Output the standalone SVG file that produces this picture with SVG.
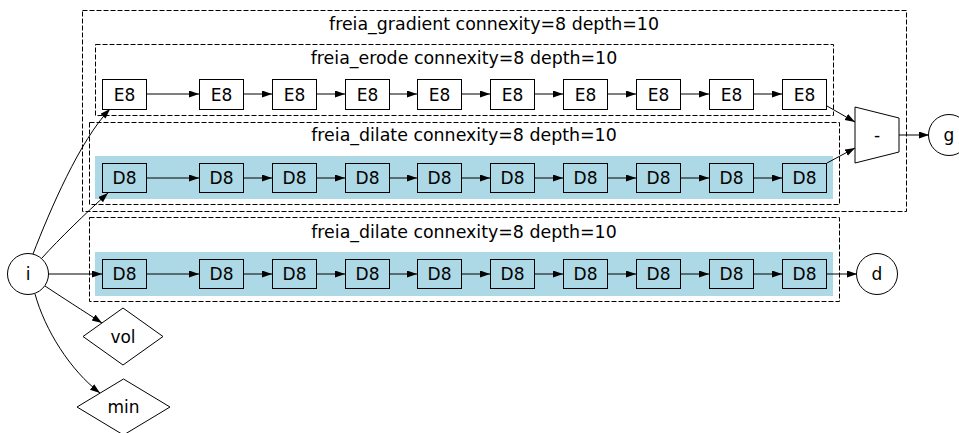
<svg xmlns="http://www.w3.org/2000/svg" width="959" height="433" viewBox="0 0 959 433">
<style>
text{font-family:"DejaVu Sans",sans-serif;font-size:17px;fill:#000;text-anchor:middle}
text.t{font-size:17.4px}
.cl{fill:none;stroke:#000;stroke-width:1;stroke-dasharray:5,2}
.bg{fill:#add8e6;stroke:none}
.n{stroke:#000;stroke-width:1}
.w{fill:#fff}
.b{fill:#add8e6}
.e{fill:none;stroke:#000;stroke-width:1;marker-end:url(#ah)}
</style>
<defs>
<marker id="ah" markerUnits="userSpaceOnUse" markerWidth="10" markerHeight="8" refX="10" refY="3.5" orient="auto">
<path d="M0,0 L10,3.5 L0,7 z" fill="#000"/>
</marker>
</defs>
<rect width="959" height="433" fill="#fff"/>
<g id="cluster_gradient">
<rect class="cl" x="82.5" y="10.5" width="824" height="201"/>
<text class="t" x="494" y="30">freia_gradient connexity=8 depth=10</text>
</g>
<g id="cluster_erode">
<rect class="cl" x="95.5" y="44.5" width="738" height="71"/>
<text class="t" x="464" y="64">freia_erode connexity=8 depth=10</text>
</g>
<g id="cluster_dilate1">
<rect class="cl" x="89.5" y="122.5" width="750" height="82"/>
<text class="t" x="464" y="141">freia_dilate connexity=8 depth=10</text>
<rect class="bg" x="95" y="156" width="738" height="43"/>
</g>
<g id="cluster_dilate2">
<rect class="cl" x="89.5" y="217.5" width="750" height="84"/>
<text class="t" x="464" y="238">freia_dilate connexity=8 depth=10</text>
<rect class="bg" x="95" y="252" width="738" height="44"/>
</g>
<g id="edges">
<path class="e" d="M146,94 L199,94"/>
<path class="e" d="M243,94 L272,94"/>
<path class="e" d="M316,94 L345,94"/>
<path class="e" d="M389,94 L417,94"/>
<path class="e" d="M461,94 L490,94"/>
<path class="e" d="M534,94 L563,94"/>
<path class="e" d="M607,94 L636,94"/>
<path class="e" d="M680,94 L709,94"/>
<path class="e" d="M753,94 L782,94"/>
<path class="e" d="M146,178 L199,178"/>
<path class="e" d="M243,178 L272,178"/>
<path class="e" d="M316,178 L345,178"/>
<path class="e" d="M389,178 L417,178"/>
<path class="e" d="M461,178 L490,178"/>
<path class="e" d="M534,178 L563,178"/>
<path class="e" d="M607,178 L636,178"/>
<path class="e" d="M680,178 L709,178"/>
<path class="e" d="M753,178 L782,178"/>
<path class="e" d="M146,274 L199,274"/>
<path class="e" d="M243,274 L272,274"/>
<path class="e" d="M316,274 L345,274"/>
<path class="e" d="M389,274 L417,274"/>
<path class="e" d="M461,274 L490,274"/>
<path class="e" d="M534,274 L563,274"/>
<path class="e" d="M607,274 L636,274"/>
<path class="e" d="M680,274 L709,274"/>
<path class="e" d="M753,274 L782,274"/>
<path class="e" d="M33,254 C50,210 80,140 110,109"/>
<path class="e" d="M42,258 C60,238 85,214 108,193"/>
<path class="e" d="M48,274 L102,274"/>
<path class="e" d="M45,286 C60,296 85,312 102,323"/>
<path class="e" d="M35,294 C45,330 70,370 100,393"/>
<path class="e" d="M827,106 L855,122"/>
<path class="e" d="M827,163 L855,148"/>
<path class="e" d="M899,135 L929,135"/>
<path class="e" d="M826,274 L857,274"/>
</g>
<g id="E8_1"><rect class="n w" x="102.5" y="79.5" width="44" height="30"/><text x="124.5" y="100.5">E8</text></g>
<g id="E8_2"><rect class="n w" x="199.5" y="79.5" width="44" height="30"/><text x="221.5" y="100.5">E8</text></g>
<g id="E8_3"><rect class="n w" x="272.5" y="79.5" width="44" height="30"/><text x="294.5" y="100.5">E8</text></g>
<g id="E8_4"><rect class="n w" x="345.5" y="79.5" width="44" height="30"/><text x="367.5" y="100.5">E8</text></g>
<g id="E8_5"><rect class="n w" x="417.5" y="79.5" width="44" height="30"/><text x="439.5" y="100.5">E8</text></g>
<g id="E8_6"><rect class="n w" x="490.5" y="79.5" width="44" height="30"/><text x="512.5" y="100.5">E8</text></g>
<g id="E8_7"><rect class="n w" x="563.5" y="79.5" width="44" height="30"/><text x="585.5" y="100.5">E8</text></g>
<g id="E8_8"><rect class="n w" x="636.5" y="79.5" width="44" height="30"/><text x="658.5" y="100.5">E8</text></g>
<g id="E8_9"><rect class="n w" x="709.5" y="79.5" width="44" height="30"/><text x="731.5" y="100.5">E8</text></g>
<g id="E8_10"><rect class="n w" x="782.5" y="79.5" width="44" height="30"/><text x="804.5" y="100.5">E8</text></g>
<g id="D8a_1"><rect class="n b" x="102.5" y="163.5" width="44" height="29"/><text x="124.5" y="184">D8</text></g>
<g id="D8a_2"><rect class="n b" x="199.5" y="163.5" width="44" height="29"/><text x="221.5" y="184">D8</text></g>
<g id="D8a_3"><rect class="n b" x="272.5" y="163.5" width="44" height="29"/><text x="294.5" y="184">D8</text></g>
<g id="D8a_4"><rect class="n b" x="345.5" y="163.5" width="44" height="29"/><text x="367.5" y="184">D8</text></g>
<g id="D8a_5"><rect class="n b" x="417.5" y="163.5" width="44" height="29"/><text x="439.5" y="184">D8</text></g>
<g id="D8a_6"><rect class="n b" x="490.5" y="163.5" width="44" height="29"/><text x="512.5" y="184">D8</text></g>
<g id="D8a_7"><rect class="n b" x="563.5" y="163.5" width="44" height="29"/><text x="585.5" y="184">D8</text></g>
<g id="D8a_8"><rect class="n b" x="636.5" y="163.5" width="44" height="29"/><text x="658.5" y="184">D8</text></g>
<g id="D8a_9"><rect class="n b" x="709.5" y="163.5" width="44" height="29"/><text x="731.5" y="184">D8</text></g>
<g id="D8a_10"><rect class="n b" x="782.5" y="163.5" width="44" height="29"/><text x="804.5" y="184">D8</text></g>
<g id="D8b_1"><rect class="n b" x="102.5" y="259.5" width="44" height="29"/><text x="124.5" y="280">D8</text></g>
<g id="D8b_2"><rect class="n b" x="199.5" y="259.5" width="44" height="29"/><text x="221.5" y="280">D8</text></g>
<g id="D8b_3"><rect class="n b" x="272.5" y="259.5" width="44" height="29"/><text x="294.5" y="280">D8</text></g>
<g id="D8b_4"><rect class="n b" x="345.5" y="259.5" width="44" height="29"/><text x="367.5" y="280">D8</text></g>
<g id="D8b_5"><rect class="n b" x="417.5" y="259.5" width="44" height="29"/><text x="439.5" y="280">D8</text></g>
<g id="D8b_6"><rect class="n b" x="490.5" y="259.5" width="44" height="29"/><text x="512.5" y="280">D8</text></g>
<g id="D8b_7"><rect class="n b" x="563.5" y="259.5" width="44" height="29"/><text x="585.5" y="280">D8</text></g>
<g id="D8b_8"><rect class="n b" x="636.5" y="259.5" width="44" height="29"/><text x="658.5" y="280">D8</text></g>
<g id="D8b_9"><rect class="n b" x="709.5" y="259.5" width="44" height="29"/><text x="731.5" y="280">D8</text></g>
<g id="D8b_10"><rect class="n b" x="782.5" y="259.5" width="44" height="29"/><text x="804.5" y="280">D8</text></g>
<g id="i"><circle class="n w" cx="28" cy="274" r="20.5"/><text x="28" y="280">i</text></g>
<g id="vol"><polygon class="n w" points="123,308 163,336.5 123,365 83,336.5"/><text x="123" y="342.5">vol</text></g>
<g id="min"><polygon class="n w" points="123.5,379 170,407 123.5,435 77,407"/><text x="123.5" y="413">min</text></g>
<g id="minus"><polygon class="n w" points="855,107 899,118 899,152 855,163"/><text x="877" y="141">-</text></g>
<g id="g"><circle class="n w" cx="949" cy="135" r="20.5"/><text x="949" y="141">g</text></g>
<g id="d"><circle class="n w" cx="877" cy="274" r="20.5"/><text x="877" y="280">d</text></g>
</svg>
